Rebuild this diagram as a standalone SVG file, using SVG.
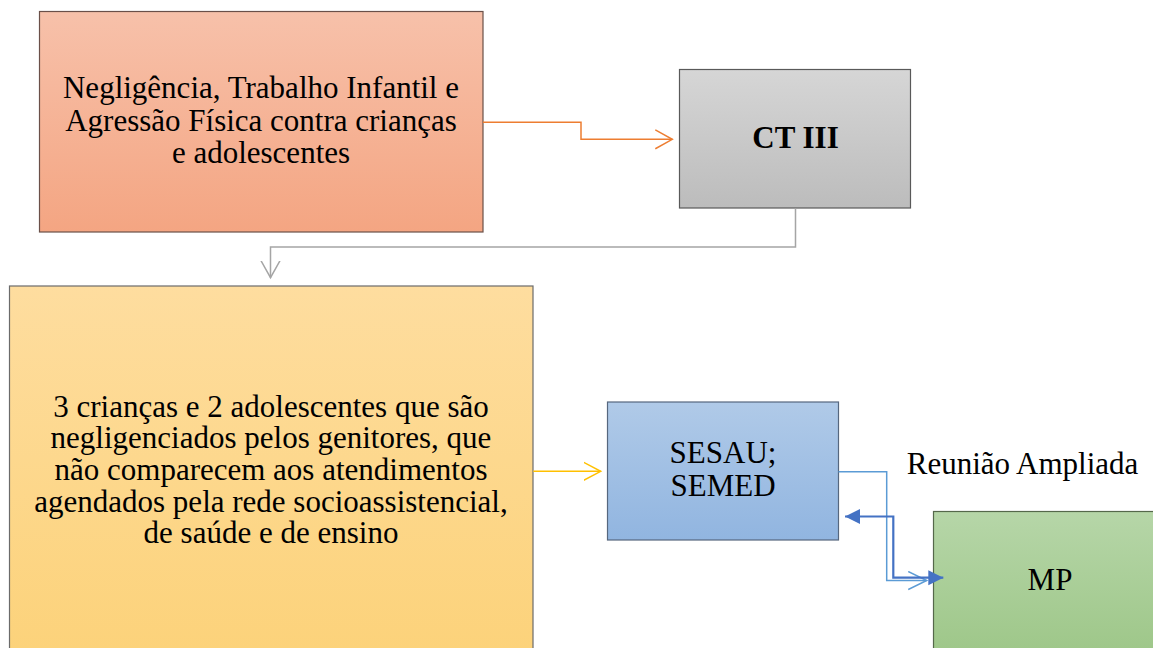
<svg xmlns="http://www.w3.org/2000/svg" width="1153" height="648" viewBox="0 0 1153 648">
  <defs>
    <style>
      .box { stroke-width: 1.2; }
      .t { font-family: "Liberation Serif", "Times New Roman", serif; font-size: 31px; fill: #000; text-anchor: middle; }
      .b { font-weight: bold; }
      .conn { fill: none; }
    </style>
    <linearGradient id="gOrange" x1="0" y1="0" x2="0" y2="1">
      <stop offset="0" stop-color="#F7C1AA"/>
      <stop offset="1" stop-color="#F4A582"/>
    </linearGradient>
    <linearGradient id="gGray" x1="0" y1="0" x2="0" y2="1">
      <stop offset="0" stop-color="#D6D6D6"/>
      <stop offset="1" stop-color="#BCBCBC"/>
    </linearGradient>
    <linearGradient id="gYellow" x1="0" y1="0" x2="0" y2="1">
      <stop offset="0" stop-color="#FEDD9F"/>
      <stop offset="1" stop-color="#FCD279"/>
    </linearGradient>
    <linearGradient id="gBlue" x1="0" y1="0" x2="0" y2="1">
      <stop offset="0" stop-color="#B0CAE8"/>
      <stop offset="1" stop-color="#91B5E0"/>
    </linearGradient>
    <linearGradient id="gGreen" x1="0" y1="0" x2="0" y2="1">
      <stop offset="0" stop-color="#B6D6A8"/>
      <stop offset="1" stop-color="#9BC585"/>
    </linearGradient>
    <marker id="aOrange" markerUnits="userSpaceOnUse" markerWidth="22" markerHeight="24" refX="17" refY="10" orient="auto">
      <path d="M0,0.5 L17,10 L0,19.5" fill="none" stroke="#ED7D31" stroke-width="1.5"/>
    </marker>
    <marker id="aGray" markerUnits="userSpaceOnUse" markerWidth="22" markerHeight="24" refX="17" refY="10" orient="auto">
      <path d="M0,0.5 L17,10 L0,19.5" fill="none" stroke="#A5A5A5" stroke-width="1.5"/>
    </marker>
    <marker id="aYellow" markerUnits="userSpaceOnUse" markerWidth="22" markerHeight="24" refX="17" refY="10" orient="auto">
      <path d="M0,1 L17,10 L0,19" fill="none" stroke="#FFC000" stroke-width="1.5"/>
    </marker>
    <marker id="aBlueOpen" markerUnits="userSpaceOnUse" markerWidth="22" markerHeight="24" refX="18.5" refY="10" orient="auto">
      <path d="M0,1 L18.5,10 L0,19" fill="none" stroke="#5B9BD5" stroke-width="1.5"/>
    </marker>
    <marker id="aBlueFill" markerUnits="userSpaceOnUse" markerWidth="18" markerHeight="18" refX="15" refY="8" orient="auto-start-reverse">
      <path d="M0,0.5 L15,8 L0,15.5 Z" fill="#4472C4" stroke="none"/>
    </marker>
  </defs>

  <rect width="1153" height="648" fill="#FFFFFF"/>

  <g id="node-violencias">
    <rect class="box" x="39.5" y="11.5" width="443.5" height="220.5" fill="url(#gOrange)" stroke="#6A5049"/>
    <text class="t" x="261" y="98">Negligência, Trabalho Infantil e</text>
    <text class="t" x="261" y="131">Agressão Física contra crianças</text>
    <text class="t" x="261" y="162.5">e adolescentes</text>
  </g>

  <g id="node-ct3">
    <rect class="box" x="679.5" y="69.5" width="231" height="138.5" fill="url(#gGray)" stroke="#595959"/>
    <text class="t b" x="795.5" y="147.5">CT III</text>
  </g>

  <g id="node-criancas">
    <rect class="box" x="9.5" y="286" width="523.5" height="380" fill="url(#gYellow)" stroke="#6B6B6B"/>
    <text class="t" x="271" y="416.5">3 crianças e 2 adolescentes que são</text>
    <text class="t" x="271" y="448.3">negligenciados pelos genitores, que</text>
    <text class="t" x="271" y="480">não comparecem aos atendimentos</text>
    <text class="t" x="271" y="511.7">agendados pela rede socioassistencial,</text>
    <text class="t" x="271" y="543.3">de saúde e de ensino</text>
  </g>

  <g id="node-sesau">
    <rect class="box" x="607.5" y="402" width="231" height="138" fill="url(#gBlue)" stroke="#56677E"/>
    <text class="t" x="723" y="463.3">SESAU;</text>
    <text class="t" x="723" y="496">SEMED</text>
  </g>

  <g id="node-mp">
    <rect class="box" x="933.5" y="511.5" width="240" height="160" fill="url(#gGreen)" stroke="#55684B"/>
    <text class="t" x="1050" y="590">MP</text>
  </g>

  <g id="label-reuniao">
    <text class="t" x="1022.5" y="474">Reunião Ampliada</text>
  </g>

  <g id="connectors">
    <path class="conn" d="M483,122.3 H581 V139.3 H672.3" stroke="#ED7D31" stroke-width="1.5" marker-end="url(#aOrange)"/>
    <path class="conn" d="M795.5,208.3 V247 H270.5 V277.7" stroke="#A5A5A5" stroke-width="1.5" marker-end="url(#aGray)"/>
    <path class="conn" d="M533.3,471.3 H600.7" stroke="#FFC000" stroke-width="1.5" marker-end="url(#aYellow)"/>
    <path class="conn" d="M838.5,471.7 H886.7 V580.5 H926.7" stroke="#5B9BD5" stroke-width="1.5" marker-end="url(#aBlueOpen)"/>
    <path class="conn" d="M845,516.5 H893.3 V577.7 H943.3" stroke="#4472C4" stroke-width="2.2" marker-start="url(#aBlueFill)" marker-end="url(#aBlueFill)"/>
  </g>
</svg>
